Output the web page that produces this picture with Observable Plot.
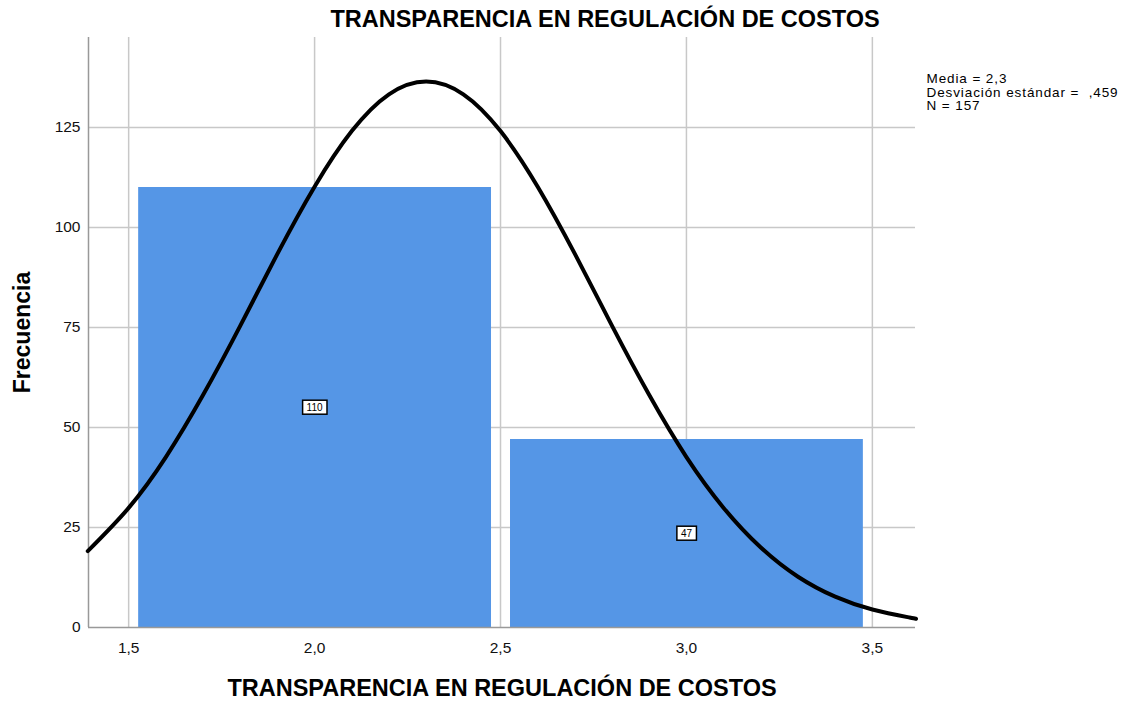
<!DOCTYPE html>
<html>
<head>
<meta charset="utf-8">
<script src="https://cdn.jsdelivr.net/npm/d3@7"></script>
<script src="https://cdn.jsdelivr.net/npm/@observablehq/plot@0.6"></script>
<style>
  html, body { margin: 0; padding: 0; background: #fff; }
  #chart { width: 1129px; height: 701px; }
</style>
</head>
<body>
<div id="chart"></div>
<script>
// Histogram bins
const binStart = [1.5, 2.5];
const binEnd = [2.5, 3.5];
const binCount = [110, 47];

// Normal curve
const curveX = [1.39, 1.5, 1.6, 1.7, 1.8, 1.9, 2.0, 2.1, 2.2, 2.3, 2.4, 2.5, 2.6, 2.7, 2.8, 2.9, 3.0, 3.1, 3.2, 3.3, 3.4, 3.5, 3.6, 3.616];
const curveY = [19.1, 29.9, 42.6, 58.1, 75.4, 93.4, 110.2, 124.1, 133.3, 136.5, 133.3, 124.1, 110.2, 93.4, 75.4, 58.1, 42.6, 29.9, 20.0, 12.7, 7.7, 4.5, 2.5, 2.2];

// Axes
const xTicks = [1.5, 2.0, 2.5, 3.0, 3.5];
const xTickLabels = ["1,5", "2,0", "2,5", "3,0", "3,5"];
const yTicks = [0, 25, 50, 75, 100, 125];
const yTickLabels = ["0", "25", "50", "75", "100", "125"];
const xDomain = [1.392, 3.616];
const yDomain = [0, 147.5];

// Texts
const chartTitle = "TRANSPARENCIA EN REGULACIÓN DE COSTOS";
const xTitle = "TRANSPARENCIA EN REGULACIÓN DE COSTOS";
const yTitle = "Frecuencia";
const statsLines = ["Media = 2,3", "Desviación estándar =  ,459", "N = 157"];

const bins = binCount.map((c, i) => ({x1: binStart[i], x2: binEnd[i], count: c, mid: (binStart[i] + binEnd[i]) / 2}));
const curve = curveX.map((x, i) => ({x, y: curveY[i]}));
const grid = "#c8c8c8";

const plot = Plot.plot({
  width: 1129,
  height: 701,
  marginLeft: 88,
  marginRight: 214,
  marginTop: 37,
  marginBottom: 74,
  style: {fontFamily: "'Liberation Sans', Arial, sans-serif", fontSize: "15.5px", color: "#000", background: "#fff", overflow: "visible"},
  x: {domain: xDomain},
  y: {domain: yDomain},
  marks: [
    Plot.gridX(xTicks, {stroke: grid, strokeOpacity: 1, strokeWidth: 1.5}),
    Plot.gridY(yTicks.filter(d => d > 0), {stroke: grid, strokeOpacity: 1, strokeWidth: 1.5}),
    Plot.rectY(bins, {x1: "x1", x2: "x2", y: "count", fill: "#5596E6", insetLeft: 10, insetRight: 9}),
    Plot.ruleX([xDomain[0]], {stroke: "#999", strokeWidth: 1.5}),
    Plot.ruleY([0], {stroke: "#999", strokeWidth: 1.5}),
    Plot.line(curve, {x: "x", y: "y", curve: "natural", stroke: "#000", strokeWidth: 4}),
    Plot.text(bins, {x: "mid", y: d => d.count / 2, text: d => String(d.count), fontSize: 10, fill: "#000", className: "barlabel"}),
    Plot.axisX(xTicks, {tickSize: 0, tickPadding: 14, tickFormat: (d, i) => xTickLabels[i], label: null, fontSize: 15.5, fill: "#111"}),
    Plot.axisY(yTicks, {tickSize: 0, tickPadding: 8, tickFormat: (d, i) => yTickLabels[i], label: null, fontSize: 15.5, fill: "#111"}),
    Plot.text([chartTitle], {frameAnchor: "top", dx: 103, dy: -11, lineAnchor: "bottom", fontSize: 23.5, fontWeight: "bold", fill: "#000"}),
    Plot.text([xTitle], {frameAnchor: "bottom", dy: 68, lineAnchor: "bottom", fontSize: 23.5, fontWeight: "bold", fill: "#000"}),
    Plot.text([yTitle], {frameAnchor: "left", dx: -66, rotate: -90, textAnchor: "middle", lineAnchor: "middle", fontSize: 23, fontWeight: "bold", fill: "#000"}),
    Plot.text([statsLines.join("\n")], {frameAnchor: "top-right", dx: 11, dy: 36, textAnchor: "start", lineAnchor: "top", lineHeight: 1.0, fontSize: 13.5, fill: "#000", className: "stats"})
  ]
});
document.getElementById("chart").appendChild(plot);
plot.querySelectorAll("text").forEach(t => t.setAttribute("xml:space", "preserve"));
plot.querySelectorAll("text, tspan").forEach(t => t.style.whiteSpace = "pre");
plot.querySelectorAll("g.stats text").forEach(t => t.style.letterSpacing = "0.9px");

// white boxes behind the bar labels
plot.querySelectorAll("g.barlabel text").forEach(t => {
  const b = t.getBBox();
  const r = document.createElementNS("http://www.w3.org/2000/svg", "rect");
  r.setAttribute("x", b.x - 4);
  r.setAttribute("y", b.y - 1.5);
  r.setAttribute("width", b.width + 8);
  r.setAttribute("height", b.height + 3);
  r.setAttribute("fill", "#fff");
  r.setAttribute("stroke", "#000");
  r.setAttribute("stroke-width", 1.5);
  const tr = t.getAttribute("transform");
  if (tr) r.setAttribute("transform", tr);
  t.parentNode.insertBefore(r, t);
});
</script>
</body>
</html>
